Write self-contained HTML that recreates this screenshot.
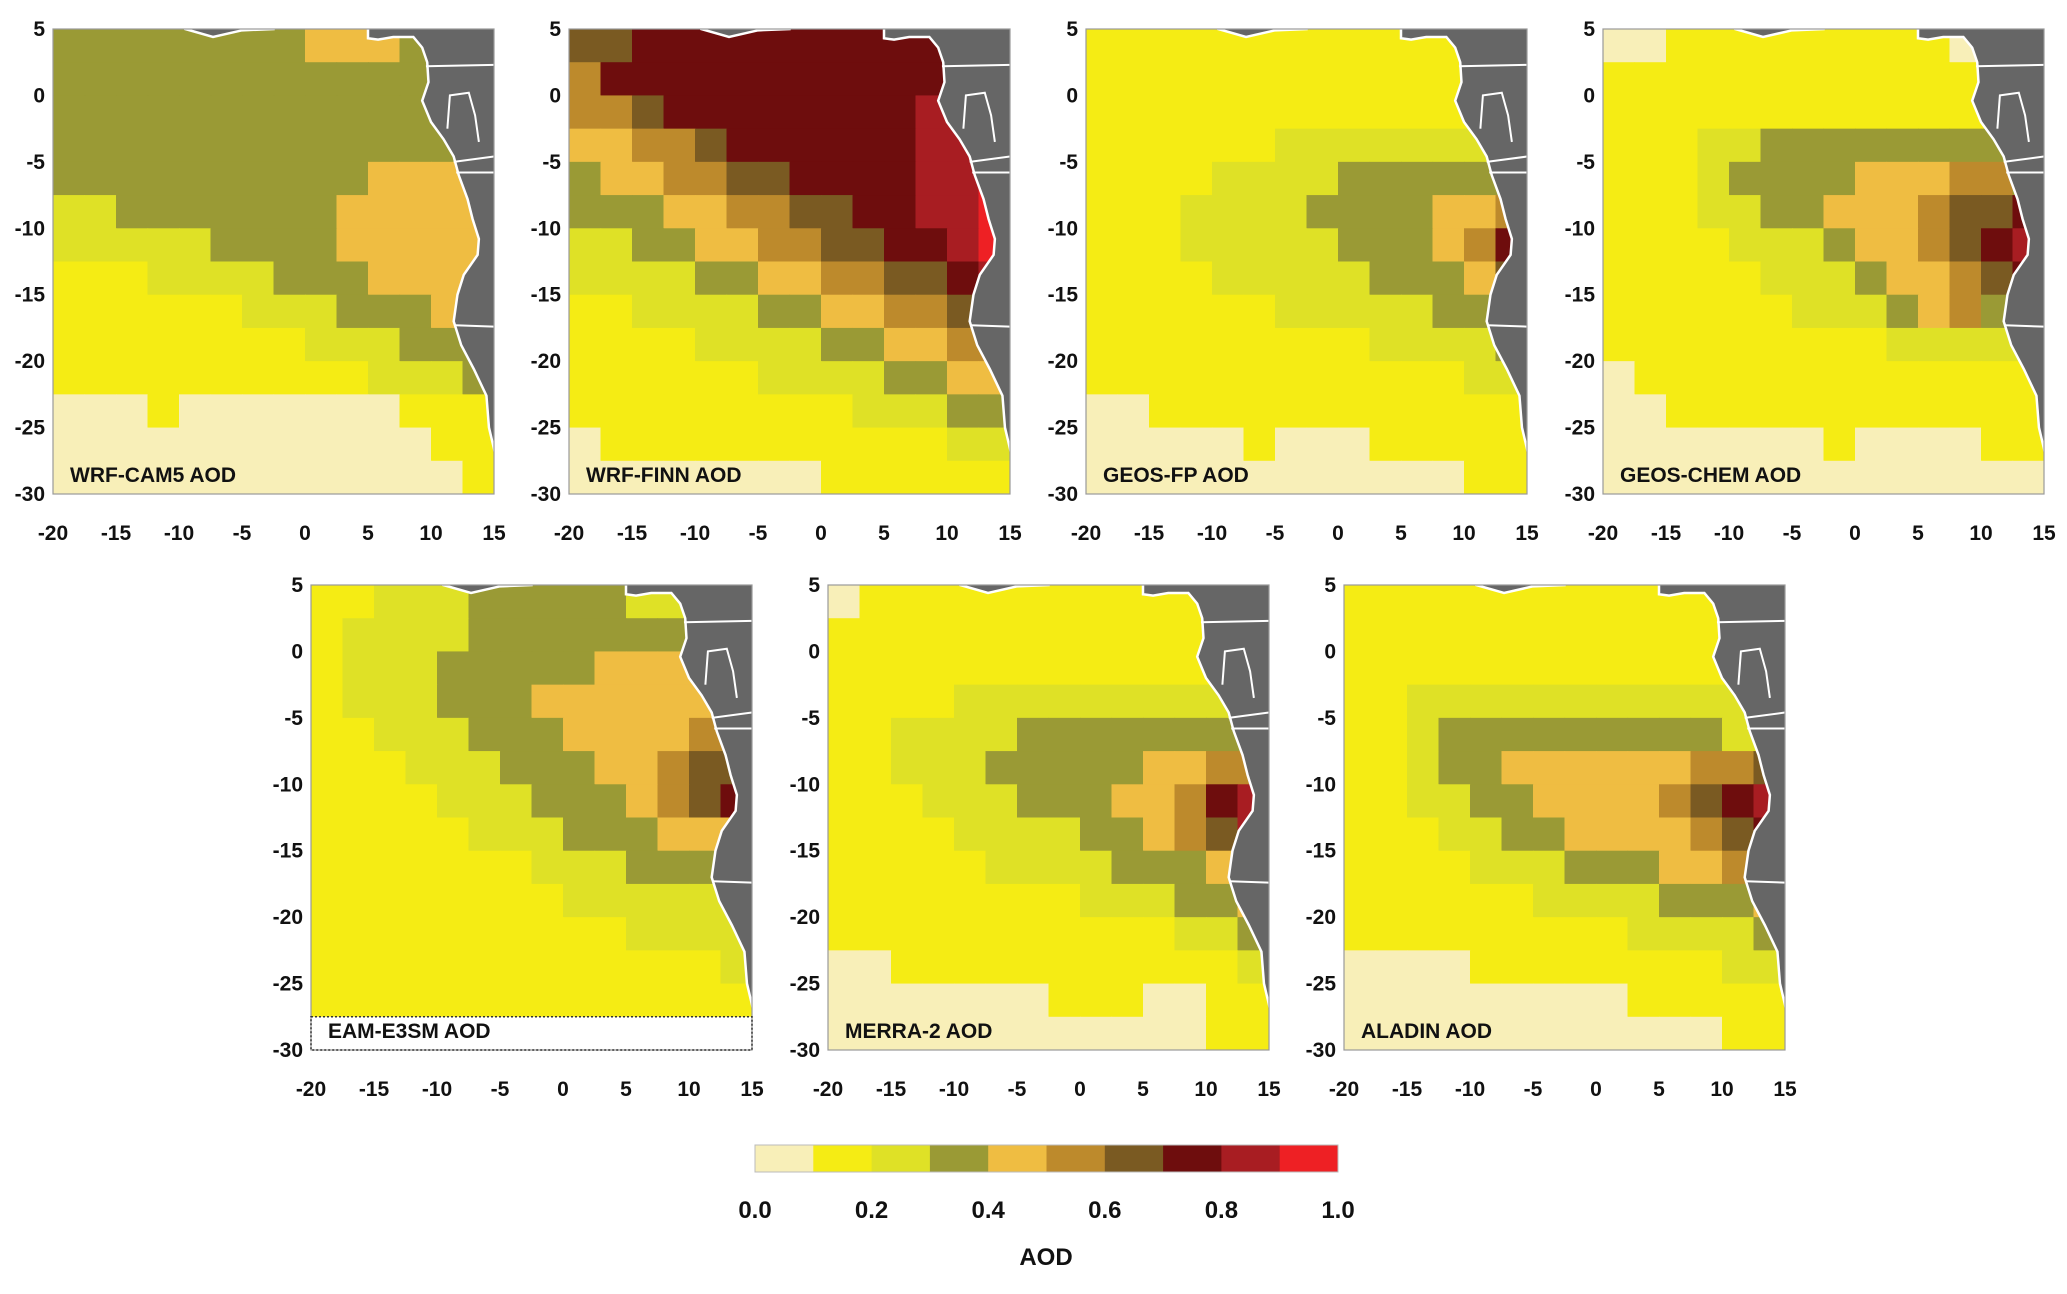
<!DOCTYPE html>
<html><head><meta charset="utf-8">
<style>
body{margin:0;background:#fff;width:2067px;height:1289px;overflow:hidden;font-family:"Liberation Sans",Arial,sans-serif;}
svg text{font-family:"Liberation Sans",Arial,sans-serif;font-weight:bold;fill:#111;}
</style></head>
<body>
<svg id="fig" width="2067" height="1289" xmlns="http://www.w3.org/2000/svg"></svg>
<script>
const colors=["#f8efb8","#f5ec14","#dfe126","#9a9a35","#efbd42","#bd8a2c","#7a5a22","#6e0d0d","#a81d22","#ee2024"];
const lonTicks=[-20,-15,-10,-5,0,5,10,15];
const latTicks=[5,0,-5,-10,-15,-20,-25,-30];
const cbLabels=["0.0","0.2","0.4","0.6","0.8","1.0"];
const titles=["WRF-CAM5 AOD","WRF-FINN AOD","GEOS-FP AOD","GEOS-CHEM AOD","EAM-E3SM AOD","MERRA-2 AOD","ALADIN AOD"];
const gridCAM5=["33333333444333","33333333333333","33333333333333","33333333333333","33333333334444","22333333344444","22222333344444","11122223334444","11111122233344","11111111222333","11111111112223","00010000000111","00000000000011","00000000000001"];
const gridFINN=["66777777777777","57777777777788","55677777777888","44556777777888","34455667777889","33344556677889","22334455667789","22223344556678","11222233445566","11112222334455","11111122223344","11111111122233","01111111111122","00000000111111"];
const gridFP=["11111111111111","11111111111111","11111111111111","11111122222222","11112222333333","11122223333445","11122222333457","11112222233346","11111122222334","11111111122223","11111111111122","00111111111111","00000100011111","00000000000011"];
const gridCHEM=["00111111111000","11111111111111","11111111111111","11122333333333","11123333444553","11122334445667","11112223445678","11111222344567","11111122234533","11111111122222","01111111111111","00111111111111","00000001000011","00000000000000"];
const gridE3SM=["11222333332222","12222333333333","12223333344443","12223334444444","11222333444455","11122233344566","11112223334567","11111222333444","11111112223333","11111111222222","11111111112222","11111111111112","11111111111111","WWWWWWWWWWWWWW"];
const gridMERRA=["01111111111111","11111111111111","11111111111111","11112222222222","11222233333333","11222333334455","11122233344578","11112222334568","11111222233345","11111111222334","11111111111223","00111111111112","00000001110011","00000000000011"];
const gridALADIN=["11111111111111","11111111111111","11111111111111","11222222222222","11233333333322","11233444444556","11223344445678","11122334444567","11112223334455","11111122223334","11111111122223","00001111111122","00000000011111","00000000000011"];
const grids=[gridCAM5,gridFINN,gridFP,gridCHEM,gridE3SM,gridMERRA,gridALADIN];
const coast=[[5,4.3],[5.8,4.2],[7,4.4],[8.6,4.4],[9.3,3.6],[9.7,2.5],[9.8,1],[9.3,-0.4],[10,-2],[11,-3.3],[11.8,-4.6],[12.2,-6],[12.9,-7.8],[13.3,-9.3],[13.8,-10.8],[13.7,-12],[12.6,-13.5],[12.1,-15],[11.8,-17],[12.4,-18.8],[13.4,-20.6],[14.4,-22.6],[14.6,-25],[15.1,-27],[16,-28.8]];
const landNW=[[-9.5,5],[-7.3,4.4],[-5,4.9],[-2.5,5]];

const NS="http://www.w3.org/2000/svg";
const svg=document.getElementById('fig');
function mk(tag,attrs,parent){const e=document.createElementNS(NS,tag);for(const k in attrs)e.setAttribute(k,attrs[k]);(parent||svg).appendChild(e);return e;}
const W=441,H=465;
const pos=[[53,29],[569,29],[1086,29],[1603,29],[311,585],[828,585],[1344,585]];
pos.forEach((p,i)=>{
  const [L,T]=p;
  const g=mk('g',{});
  
  
  const X=lon=>L+(lon+20)/35*W;
  const Y=lat=>T+(5-lat)/35*H;
  const cid='clip'+i;
  const cp=mk('clipPath',{id:cid},g);mk('rect',{x:L,y:T,width:W,height:H},cp);
  const cells=mk('g',{'clip-path':'url(#'+cid+')'},g);
  const grid=grids[i];
  grid.forEach((row,r)=>{
    for(let c=0;c<row.length;c++){
      const ch=row[c];
      const lon0=-20+c*2.5, lat0=5-r*2.5;
      const rc=mk('rect',{x:X(lon0),y:Y(lat0),width:X(lon0+2.5)-X(lon0)+0.6,height:Y(lat0-2.5)-Y(lat0)+0.6,fill:ch==='W'?'#ffffff':colors[+ch]},cells);
      
      
    }
  });
  // land
  let d='M'+X(coast[0][0])+','+Y(6);
  coast.forEach(q=>{d+=' L'+X(q[0])+','+Y(q[1]);});
  d+=' L'+X(20)+','+Y(-31)+' L'+X(20)+','+Y(6)+' Z';
  const land=mk('path',{d:d,fill:'#666',stroke:'#fff','stroke-width':2.5},cells);
  
  
  let d2='M'+X(landNW[0][0])+','+Y(6);landNW.forEach(q=>{d2+=' L'+X(q[0])+','+Y(q[1]);});d2+=' L'+X(-2.5)+','+Y(6)+' Z';
  mk('path',{d:d2,fill:'#666',stroke:'#fff','stroke-width':2.5},cells);
  // borders
  [[[9.6,2.2],[15,2.3]],[[11.8,-5],[15,-4.6]],[[12,-5.8],[15,-5.8]],[[11.9,-17.3],[15,-17.4]],[[11.3,-2.5],[11.5,0],[13,0.2],[13.5,-1.5],[13.8,-3.5]]].forEach(b=>{
    mk('polyline',{points:b.map(q=>X(q[0])+','+Y(q[1])).join(' '),fill:'none',stroke:'#fff','stroke-width':2},cells);
  });
  mk('rect',{x:L,y:T,width:W,height:H,fill:'none',stroke:'#999','stroke-width':1.2},g);
  if(i===4){mk('rect',{x:L,y:Y(-27.5),width:W,height:Y(-30)-Y(-27.5),fill:'none',stroke:'#333','stroke-width':1.5,'stroke-dasharray':'2,2'},g);}
  latTicks.forEach(v=>{const t=mk('text',{x:L-8,y:Y(v)+7,'text-anchor':'end','font-size':21},g);t.textContent=v;
    });
  lonTicks.forEach(v=>{const t=mk('text',{x:X(v),y:T+H+46,'text-anchor':'middle','font-size':21},g);t.textContent=v;
    });
  const tt=mk('text',{x:L+17,y:T+H-12,'font-size':21},g);tt.textContent=titles[i];
  
});
// colorbar
const cb=mk('g',{});


const cbL=755,cbR=1338,cbT=1145,cbB=1172;
colors.forEach((c,k)=>{const w=(cbR-cbL)/colors.length;const r=mk('rect',{x:cbL+k*w,y:cbT,width:w+0.5,height:cbB-cbT,fill:c},cb);
  });
mk('rect',{x:cbL,y:cbT,width:cbR-cbL,height:cbB-cbT,fill:'none',stroke:'#bbb','stroke-width':1},cb);
cbLabels.forEach((s,k)=>{const t=mk('text',{x:cbL+k*(cbR-cbL)/5,y:1218,'text-anchor':'middle','font-size':24},cb);t.textContent=s;
  });
const at=mk('text',{x:1046,y:1265,'text-anchor':'middle','font-size':24},cb);at.textContent='AOD';

</script>
</body></html>
